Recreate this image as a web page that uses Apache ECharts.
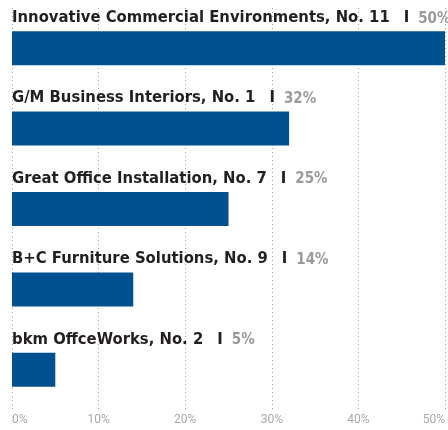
<!DOCTYPE html>
<html>
<head>
<meta charset="utf-8">
<script src="https://cdn.jsdelivr.net/npm/echarts@6/dist/echarts.min.js"></script>
<style>
html,body{margin:0;padding:0;background:#fff;}
#chart{width:448px;height:430px;}
</style>
</head>
<body>
<div id="chart"></div>
<script>
const categories = [
  'Innovative Commercial Environments, No. 11',
  'G/M Business Interiors, No. 1',
  'Great Office Installation, No. 7',
  'B+C Furniture Solutions, No. 9',
  'bkm OffceWorks, No. 2'
];
const values = [50, 32, 25, 14, 5];
const axisMin = 0;
const axisMax = 50;
const axisStep = 10;

const labelFont = '"DejaVu Sans Condensed", sans-serif';

const chart = echarts.init(document.getElementById('chart'), null, {renderer: 'canvas'});
chart.setOption({
  animation: false,
  grid: {left: 12, right: 3, top: 8, bottom: 20, containLabel: false},
  xAxis: {
    type: 'value',
    min: axisMin, max: axisMax, interval: axisStep,
    axisLine: {show: false},
    axisTick: {show: false},
    splitLine: {show: true, lineStyle: {type: [1, 3], color: '#a0a0a0', width: 1}},
    axisLabel: {
      formatter: '{value}%',
      color: '#a8a8a8',
      fontFamily: 'Roboto',
      fontSize: 12,
      margin: 4,
      alignMinLabel: 'left',
      alignMaxLabel: 'right'
    }
  },
  yAxis: {
    type: 'category',
    data: categories,
    inverse: true,
    axisLine: {show: false},
    axisTick: {show: false},
    axisLabel: {show: false},
    splitLine: {show: false}
  },
  series: [{
    type: 'bar',
    data: values,
    barWidth: 34,
    itemStyle: {color: '#01508f'},
    label: {
      show: true,
      position: [0, -5],
      verticalAlign: 'bottom',
      align: 'left',
      formatter: function (p) {
        return '{n|' + p.name + '}{s|I}{p|' + p.value + '%}';
      },
      rich: {
        n: {fontFamily: labelFont, fontWeight: 'bold', fontSize: 16.5, color: '#231f20', lineHeight: 22, verticalAlign: 'bottom'},
        s: {fontFamily: labelFont, fontWeight: 'bold', fontSize: 16.5, color: '#231f20', padding: [0, 9, 0, 14], lineHeight: 22, verticalAlign: 'bottom'},
        p: {fontFamily: labelFont, fontWeight: 'bold', fontSize: 15, color: '#9a9a9a', lineHeight: 22, verticalAlign: 'bottom'}
      }
    }
  }]
});
</script>
</body>
</html>
